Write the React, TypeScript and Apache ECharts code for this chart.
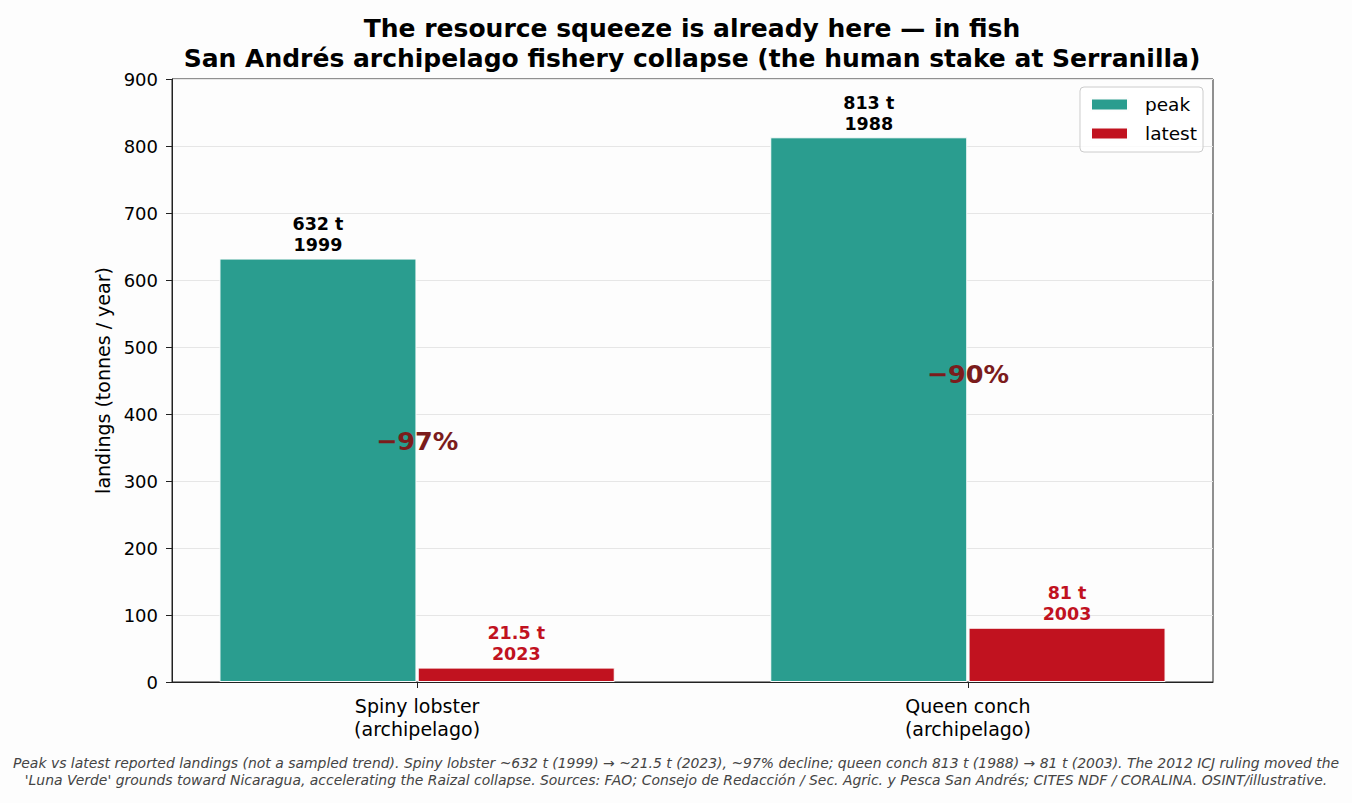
import React, { useEffect, useRef } from "react";
import * as echarts from "echarts";

const categories = ["Spiny lobster\n(archipelago)", "Queen conch\n(archipelago)"];
const peakValues = [632, 813];
const peakYears = ["1999", "1988"];
const latestValues = [21.5, 81];
const latestYears = ["2023", "2003"];
const declineLabels = ["−97%", "−90%"];
const declineLabelY = [360, 460];
const yTicks = [0, 100, 200, 300, 400, 500, 600, 700, 800, 900];
const barOffset = 0.18;

const FONT = "DejaVu Sans";

export default function App() {
  const ref = useRef<HTMLDivElement>(null);
  useEffect(() => {
    if (!ref.current) return;
    const chart = echarts.init(ref.current, null, { renderer: "svg" });
    chart.setOption({
      animation: false,
      backgroundColor: "#fdfdfd",
      textStyle: { fontFamily: FONT },
      title: {
        text: "The resource squeeze is already here — in fish\nSan Andrés archipelago fishery collapse (the human stake at Serranilla)",
        left: 692,
        textAlign: "center",
        top: 13,
        padding: 0,
        textStyle: { fontFamily: FONT, fontSize: 25, fontWeight: "bold", color: "#000", lineHeight: 30 },
      },
      legend: {
        orient: "vertical",
        right: 149,
        top: 87,
        padding: [8, 6, 9, 10],
        itemWidth: 37,
        itemHeight: 12,
        itemGap: 10,
        icon: "rect",
        borderColor: "#cccccc",
        borderWidth: 1,
        borderRadius: 4,
        backgroundColor: "rgba(255,255,255,0.8)",
        textStyle: { fontFamily: FONT, fontSize: 18.5, color: "#000", lineHeight: 19, padding: [0, 0, 0, 12] },
        data: ["peak", "latest"],
      },
      grid: {
        left: 172,
        right: 139,
        top: 79,
        bottom: 121,
        show: true,
        borderColor: "#222",
        borderWidth: 1,
        backgroundColor: "transparent",
      },
      xAxis: {
        type: "value",
        min: -0.445,
        max: 1.445,
        splitLine: { show: false },
        axisLine: { show: true, onZero: false, lineStyle: { color: "#222", width: 1 } },
        axisTick: { show: true, customValues: [0, 1], length: 6, lineStyle: { color: "#222" } },
        axisLabel: {
          customValues: [0, 1],
          formatter: (v: number) => categories[Math.round(v)] ?? "",
          fontFamily: FONT,
          fontSize: 19,
          color: "#000",
          lineHeight: 23,
          margin: 12.5,
        },
      },
      yAxis: {
        type: "value",
        min: 0,
        max: 900,
        interval: 100,
        name: "landings (tonnes / year)",
        nameLocation: "middle",
        nameGap: 55,
        nameTextStyle: { fontFamily: FONT, fontSize: 19, color: "#000" },
        axisLine: { show: true, onZero: false, lineStyle: { color: "#222", width: 1 } },
        axisTick: { show: true, length: 6, lineStyle: { color: "#222" } },
        axisLabel: {
          fontFamily: FONT,
          fontSize: 18,
          color: "#000",
          margin: 14,
          formatter: (v: number) => (yTicks.includes(v) ? String(v) : ""),
        },
        splitLine: { show: true, lineStyle: { color: "#e6e6e6", width: 1 } },
      },
      series: [
        {
          name: "peak",
          type: "bar",
          barWidth: 197,
          itemStyle: { color: "#2a9d8f", borderColor: "#fdfdfd", borderWidth: 1 },
          data: peakValues.map((v, i) => [i - barOffset, v]),
          label: {
            show: true,
            position: "top",
            distance: 3,
            formatter: (p: any) => `${p.value[1]} t\n${peakYears[p.dataIndex]}`,
            fontFamily: FONT,
            fontSize: 17.5,
            fontWeight: "bold",
            color: "#000",
            lineHeight: 21,
          },
          z: 2,
        },
        {
          name: "latest",
          type: "bar",
          barWidth: 197,
          barGap: "-100%",
          itemStyle: { color: "#c1121f", borderColor: "#fdfdfd", borderWidth: 1 },
          data: latestValues.map((v, i) => [i + barOffset, v]),
          label: {
            show: true,
            position: "top",
            distance: 3,
            formatter: (p: any) => `${p.value[1]} t\n${latestYears[p.dataIndex]}`,
            fontFamily: FONT,
            fontSize: 17.5,
            fontWeight: "bold",
            color: "#c1121f",
            lineHeight: 21,
          },
          z: 2,
        },
        {
          name: "decline",
          type: "scatter",
          symbolSize: 0,
          silent: true,
          itemStyle: { opacity: 1, color: "rgba(0,0,0,0)" },
          data: declineLabelY.map((y, i) => [i, y]),
          label: {
            show: true,
            position: "inside",
            opacity: 1,
            formatter: (p: any) => declineLabels[p.dataIndex],
            fontFamily: FONT,
            fontSize: 25.5,
            fontWeight: "bold",
            color: "#7b1c1c",
          },
          z: 5,
        },
      ],
      graphic: [
        {
          type: "text",
          left: "center",
          top: 754,
          style: {
            text:
              "Peak vs latest reported landings (not a sampled trend). Spiny lobster ~632 t (1999) → ~21.5 t (2023), ~97% decline; queen conch 813 t (1988) → 81 t (2003). The 2012 ICJ ruling moved the\n'Luna Verde' grounds toward Nicaragua, accelerating the Raizal collapse. Sources: FAO; Consejo de Redacción / Sec. Agric. y Pesca San Andrés; CITES NDF / CORALINA. OSINT/illustrative.",
            font: `italic 13.95px "${FONT}"`,
            fill: "#444",
            textAlign: "center",
            lineHeight: 17,
          },
        },
      ],
    });
    return () => chart.dispose();
  }, []);
  return (
    <div
      ref={ref}
      style={{ position: "fixed", left: 0, top: 0, width: 1352, height: 803 }}
    />
  );
}
